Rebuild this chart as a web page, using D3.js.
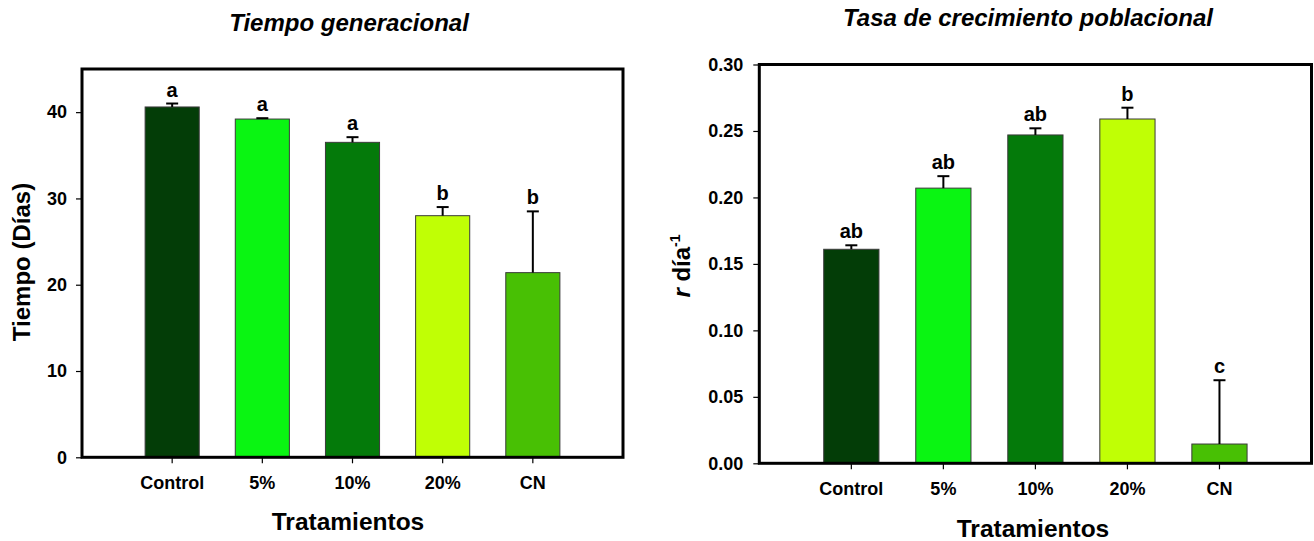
<!DOCTYPE html>
<html>
<head>
<meta charset="utf-8">
<script src="https://cdn.jsdelivr.net/npm/d3@7"></script>
<style>
  html, body { margin: 0; padding: 0; background: #fff; }
  svg { display: block; font-family: Arial, "Liberation Sans", sans-serif; }
</style>
</head>
<body>
<svg id="chart" width="1314" height="541"></svg>
<script>
// Treatments shared by both panels
const categories = ["Control", "5%", "10%", "20%", "CN"];
const barColors = ["#033d07", "#0af512", "#047a0a", "#c0ff05", "#48c004"];

// Generation time (days), mean and standard error
const genTime = [40.6, 39.2, 36.5, 28.0, 21.4];
const genTimeErr = [0.4, 0.1, 0.6, 1.0, 7.1];
const genTimeLetters = ["a", "a", "a", "b", "b"];
const genTimeTicks = [0, 10, 20, 30, 40];

// Population growth rate r (day^-1), mean and standard error
const growthRate = [0.161, 0.207, 0.247, 0.259, 0.0145];
const growthRateErr = [0.003, 0.009, 0.005, 0.0085, 0.048];
const growthRateLetters = ["ab", "ab", "ab", "b", "c"];
const growthRateTicks = [0, 0.05, 0.10, 0.15, 0.20, 0.25, 0.30];

const svg = d3.select("#chart");

function drawPanel(cfg) {
  const g = svg.append("g");
  const x = d3.scaleBand()
    .domain(categories)
    .range([cfg.left, cfg.right])
    .paddingInner(0.4)
    .paddingOuter(0.7);
  const y = d3.scaleLinear().domain(cfg.domain).range([cfg.bottom, cfg.top]);

  const rows = categories.map((c, i) => ({
    cat: c, value: cfg.values[i], err: cfg.errors[i],
    letter: cfg.letters[i], color: barColors[i]
  }));

  // bars
  g.selectAll("rect.bar").data(rows).join("rect")
    .attr("class", "bar")
    .attr("x", d => x(d.cat))
    .attr("width", x.bandwidth())
    .attr("y", d => y(d.value))
    .attr("height", d => y(0) - y(d.value))
    .attr("fill", d => d.color)
    .attr("stroke", "#3a3a3a")
    .attr("stroke-width", 1);

  // upper error bars
  const cx = d => x(d.cat) + x.bandwidth() / 2;
  g.selectAll("line.err").data(rows).join("line")
    .attr("class", "err")
    .attr("x1", cx).attr("x2", cx)
    .attr("y1", d => y(d.value))
    .attr("y2", d => y(d.value + d.err))
    .attr("stroke", "#000").attr("stroke-width", 2);
  g.selectAll("line.cap").data(rows).join("line")
    .attr("class", "cap")
    .attr("x1", d => cx(d) - 6).attr("x2", d => cx(d) + 6)
    .attr("y1", d => y(d.value + d.err))
    .attr("y2", d => y(d.value + d.err))
    .attr("stroke", "#000").attr("stroke-width", 2);

  // significance letters
  g.selectAll("text.letter").data(rows).join("text")
    .attr("class", "letter")
    .attr("x", cx)
    .attr("y", d => y(d.value + d.err) - 7)
    .attr("text-anchor", "middle")
    .attr("font-size", 20).attr("font-weight", "bold")
    .text(d => d.letter);

  // y axis
  const yAxis = g.append("g")
    .attr("transform", `translate(${cfg.left},0)`)
    .call(d3.axisLeft(y).tickValues(cfg.ticks).tickFormat(cfg.fmt)
      .tickSize(6).tickPadding(cfg.yPad));
  yAxis.select(".domain").remove();
  yAxis.selectAll("line").attr("stroke", "#000").attr("stroke-width", 1.2);
  yAxis.selectAll("text").attr("font-size", cfg.tickFont).attr("font-weight", "bold")
    .attr("fill", "#000").style("font-family", "Arial, 'Liberation Sans', sans-serif");

  // x axis
  const xAxis = g.append("g")
    .attr("transform", `translate(0,${cfg.bottom})`)
    .call(d3.axisBottom(x).tickSize(6).tickPadding(13));
  xAxis.select(".domain").remove();
  xAxis.selectAll("line").attr("stroke", "#000").attr("stroke-width", 1.2);
  xAxis.selectAll("text").attr("font-size", cfg.tickFont).attr("font-weight", "bold")
    .attr("fill", "#000").style("font-family", "Arial, 'Liberation Sans', sans-serif");

  // frame
  g.append("rect")
    .attr("x", cfg.left).attr("y", cfg.top)
    .attr("width", cfg.right - cfg.left).attr("height", cfg.bottom - cfg.top)
    .attr("fill", "none").attr("stroke", "#000").attr("stroke-width", 3);

  // title
  g.append("text")
    .attr("x", cfg.titleX).attr("y", cfg.titleY)
    .attr("text-anchor", "middle")
    .attr("font-size", 24).attr("font-weight", "bold").attr("font-style", "italic")
    .text(cfg.title);

  // x axis title
  g.append("text")
    .attr("x", cfg.xTitleX).attr("y", cfg.xTitleY)
    .attr("text-anchor", "middle")
    .attr("font-size", 24.5).attr("font-weight", "bold")
    .text("Tratamientos");

  return g;
}

const left = drawPanel({
  left: 82, right: 623, top: 69, bottom: 457.3,
  domain: [0, 45], values: genTime, errors: genTimeErr, letters: genTimeLetters,
  ticks: genTimeTicks, fmt: d3.format("d"), yPad: 9, tickFont: 18,
  title: "Tiempo generacional", titleX: 349, titleY: 31,
  xTitleX: 348, xTitleY: 530
});
left.append("text")
  .attr("transform", "translate(30,262) rotate(-90)")
  .attr("text-anchor", "middle")
  .attr("font-size", 24).attr("font-weight", "bold")
  .text("Tiempo (Días)");

const right = drawPanel({
  left: 759.3, right: 1311.5, top: 64.5, bottom: 463.3,
  domain: [0, 0.30], values: growthRate, errors: growthRateErr, letters: growthRateLetters,
  ticks: growthRateTicks, fmt: d3.format(".2f"), yPad: 10, tickFont: 18,
  title: "Tasa de crecimiento poblacional", titleX: 1028, titleY: 26,
  xTitleX: 1033, xTitleY: 537
});
const rLabel = right.append("text")
  .attr("transform", "translate(690,266) rotate(-90)")
  .attr("text-anchor", "middle")
  .attr("font-size", 24).attr("font-weight", "bold");
rLabel.append("tspan").attr("font-style", "italic").text("r");
rLabel.append("tspan").text(" día");
rLabel.append("tspan").attr("font-size", 14).attr("dy", -10).text("-1");
</script>
</body>
</html>
